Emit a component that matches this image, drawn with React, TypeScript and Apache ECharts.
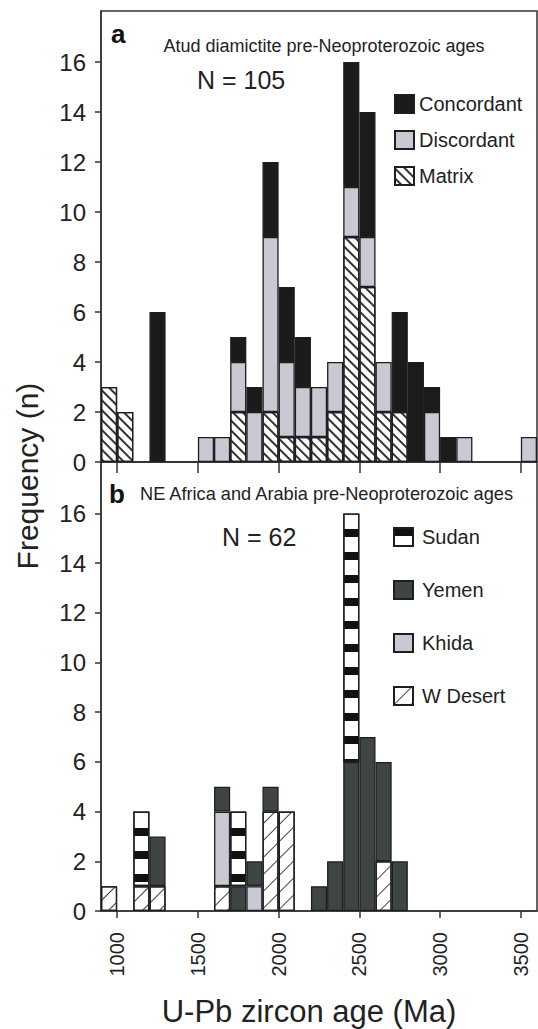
import React, { useEffect, useRef } from 'react';
import * as echarts from 'echarts';

// 100 Ma bins (bin start ages)
const bins = ['900', '1000', '1100', '1200', '1300', '1400', '1500', '1600', '1700', '1800', '1900', '2000', '2100', '2200', '2300', '2400', '2500', '2600', '2700', '2800', '2900', '3000', '3100', '3200', '3300', '3400', '3500'];
const ageTicks = [1000, 1500, 2000, 2500, 3000, 3500];
const freqTicks = [0, 2, 4, 6, 8, 10, 12, 14, 16];

// Panel a: Atud diamictite
const matrixA = [3, 2, 0, 0, 0, 0, 0, 0, 2, 0, 2, 1, 1, 1, 2, 9, 7, 2, 2, 0, 0, 0, 0, 0, 0, 0, 0];
const discordantA = [0, 0, 0, 0, 0, 0, 1, 1, 2, 2, 7, 3, 2, 2, 2, 2, 2, 2, 0, 0, 2, 0, 1, 0, 0, 0, 1];
const concordantA = [0, 0, 0, 6, 0, 0, 0, 0, 1, 1, 3, 3, 2, 0, 0, 5, 5, 0, 4, 4, 1, 1, 0, 0, 0, 0, 0];

// Panel b: NE Africa and Arabia
const wDesertB = [1, 0, 1, 1, 0, 0, 0, 1, 0, 0, 4, 4, 0, 0, 0, 0, 0, 2, 0, 0, 0, 0, 0, 0, 0, 0, 0];
const khidaB = [0, 0, 0, 0, 0, 0, 0, 3, 0, 1, 0, 0, 0, 0, 0, 0, 0, 0, 0, 0, 0, 0, 0, 0, 0, 0, 0];
const yemenB = [0, 0, 0, 2, 0, 0, 0, 1, 1, 1, 1, 0, 0, 1, 2, 6, 7, 4, 2, 0, 0, 0, 0, 0, 0, 0, 0];
const sudanB = [0, 0, 3, 0, 0, 0, 0, 0, 3, 0, 0, 0, 0, 0, 0, 10, 0, 0, 0, 0, 0, 0, 0, 0, 0, 0, 0];

const FONT = '"Liberation Sans", Arial, Helvetica, sans-serif';
const INK = '#222';
const AXIS = '#333';

const nz = (arr: number[]) => arr.map((v) => (v === 0 ? null : v));

export default function App() {
  const ref = useRef<HTMLDivElement>(null);

  useEffect(() => {
    document.body.style.margin = '0';
    if (!ref.current) return;
    const chart = echarts.init(ref.current, null, { renderer: 'svg' });

    const border = { borderColor: '#1e1e1e', borderWidth: 1.3 };
    const barBase = { type: 'bar', barCategoryGap: '0%', barGap: '0%' };

    const valueX = (gridIndex: number, showLabels: boolean, tickLen: number) => ({
      type: 'value',
      gridIndex,
      min: 900,
      max: 3600,
      position: 'bottom',
      axisLine: { show: true, lineStyle: { color: AXIS, width: 1.5 } },
      axisTick: { show: true, length: tickLen, customValues: ageTicks, lineStyle: { color: AXIS, width: 1.5 } },
      axisLabel: showLabels
        ? {
            show: true,
            customValues: ageTicks,
            rotate: 90,
            margin: 21,
            fontSize: 20,
            color: INK,
            fontFamily: FONT,
            formatter: (v: number) => String(v),
          }
        : { show: false },
      splitLine: { show: false },
    });

    const valueY = (gridIndex: number, max: number) => ({
      type: 'value',
      gridIndex,
      min: 0,
      max,
      interval: 2,
      axisLine: { show: true, lineStyle: { color: AXIS, width: 1.5 } },
      axisTick: { show: true, length: 6, customValues: freqTicks, lineStyle: { color: AXIS, width: 1.5 } },
      axisLabel: { show: true, customValues: freqTicks, margin: 15, fontSize: 24, color: INK, fontFamily: FONT },
      splitLine: { show: false },
    });

    const option: any = {
      animation: false,
      backgroundColor: '#fff',
      grid: [
        { left: 101, top: 11, width: 436, height: 451, show: true, borderColor: AXIS, borderWidth: 1.5, backgroundColor: 'transparent' },
        { left: 101, top: 462, width: 436, height: 449, show: true, borderColor: AXIS, borderWidth: 1.5, backgroundColor: 'transparent' },
      ],
      xAxis: [
        { type: 'category', gridIndex: 0, data: bins, show: false },
        valueX(0, false, 11),
        { type: 'category', gridIndex: 1, data: bins, show: false },
        valueX(1, true, 7),
      ],
      yAxis: [valueY(0, 18.04), valueY(1, 18.07)],
      legend: [
        {
          data: ['Concordant', 'Discordant', 'Matrix'],
          orient: 'vertical',
          left: 389,
          top: 89,
          icon: 'rect',
          itemWidth: 19,
          itemHeight: 18,
          itemGap: 16,
          textStyle: { fontSize: 20, color: INK, fontFamily: FONT, lineHeight: 18, padding: [0, 0, 0, 0] },
        },
        {
          data: ['Sudan', 'Yemen', 'Khida', 'W Desert'],
          orient: 'vertical',
          left: 388,
          top: 522,
          icon: 'rect',
          itemWidth: 19,
          itemHeight: 18,
          itemGap: 33,
          textStyle: { fontSize: 20, color: INK, fontFamily: FONT, lineHeight: 18, padding: [0, 0, 0, 4] },
        },
      ],
      series: [
        {
          ...barBase,
          name: 'Matrix',
          xAxisIndex: 0,
          yAxisIndex: 0,
          stack: 'a',
          data: nz(matrixA),
          itemStyle: {
            color: '#fff',
            ...border,
            decal: { symbol: 'rect', symbolSize: 1, dashArrayX: [1, 0], dashArrayY: [1.1, 4.2], rotation: Math.PI / 4, color: '#333' },
          },
        },
        { ...barBase, name: 'Discordant', xAxisIndex: 0, yAxisIndex: 0, stack: 'a', data: nz(discordantA), itemStyle: { color: '#c9c9d3', ...border } },
        { ...barBase, name: 'Concordant', xAxisIndex: 0, yAxisIndex: 0, stack: 'a', data: nz(concordantA), itemStyle: { color: '#1b1b1b', ...border } },
        {
          ...barBase,
          name: 'W Desert',
          xAxisIndex: 2,
          yAxisIndex: 1,
          stack: 'b',
          data: nz(wDesertB),
          itemStyle: {
            color: '#fff',
            ...border,
            decal: { symbol: 'rect', symbolSize: 1, dashArrayX: [1, 0], dashArrayY: [1, 11], rotation: -Math.PI / 4, color: '#444' },
          },
        },
        { ...barBase, name: 'Khida', xAxisIndex: 2, yAxisIndex: 1, stack: 'b', data: nz(khidaB), itemStyle: { color: '#c9c9d3', ...border } },
        { ...barBase, name: 'Yemen', xAxisIndex: 2, yAxisIndex: 1, stack: 'b', data: nz(yemenB), itemStyle: { color: '#3f4545', ...border } },
        {
          ...barBase,
          name: 'Sudan',
          xAxisIndex: 2,
          yAxisIndex: 1,
          stack: 'b',
          data: nz(sudanB),
          itemStyle: {
            color: '#fff',
            ...border,
            decal: { symbol: 'rect', symbolSize: 1, dashArrayX: [1, 0], dashArrayY: [8, 14.5], rotation: 0, color: '#111' },
          },
        },
      ],
      graphic: [
        { type: 'text', x: 111, y: 34, style: { text: 'a', fontSize: 26, fontWeight: 'bold', fontFamily: FONT, fill: '#111', textAlign: 'left', textVerticalAlign: 'middle' } },
        { type: 'text', x: 324, y: 45.5, style: { text: 'Atud diamictite pre-Neoproterozoic ages', fontSize: 18, fontFamily: FONT, fill: INK, textAlign: 'center', textVerticalAlign: 'middle' } },
        { type: 'text', x: 197, y: 80, style: { text: 'N = 105', fontSize: 25, fontFamily: FONT, fill: INK, textAlign: 'left', textVerticalAlign: 'middle' } },
        { type: 'text', x: 109, y: 493.5, style: { text: 'b', fontSize: 26, fontWeight: 'bold', fontFamily: FONT, fill: '#111', textAlign: 'left', textVerticalAlign: 'middle' } },
        { type: 'text', x: 140, y: 493.5, style: { text: 'NE Africa and Arabia pre-Neoproterozoic ages', fontSize: 18.2, fontFamily: FONT, fill: INK, textAlign: 'left', textVerticalAlign: 'middle' } },
        { type: 'text', x: 222, y: 536.5, style: { text: 'N = 62', fontSize: 25, fontFamily: FONT, fill: INK, textAlign: 'left', textVerticalAlign: 'middle' } },
        { type: 'text', x: 27, y: 476, rotation: Math.PI / 2, style: { text: 'Frequency (n)', fontSize: 30, fontFamily: FONT, fill: INK, textAlign: 'center', textVerticalAlign: 'middle' } },
        { type: 'text', x: 309, y: 1011, style: { text: 'U-Pb zircon age (Ma)', fontSize: 31, fontFamily: FONT, fill: INK, textAlign: 'center', textVerticalAlign: 'middle' } },
      ],
    };

    chart.setOption(option);
    return () => chart.dispose();
  }, []);

  return <div ref={ref} style={{ width: 538, height: 1029 }} />;
}
